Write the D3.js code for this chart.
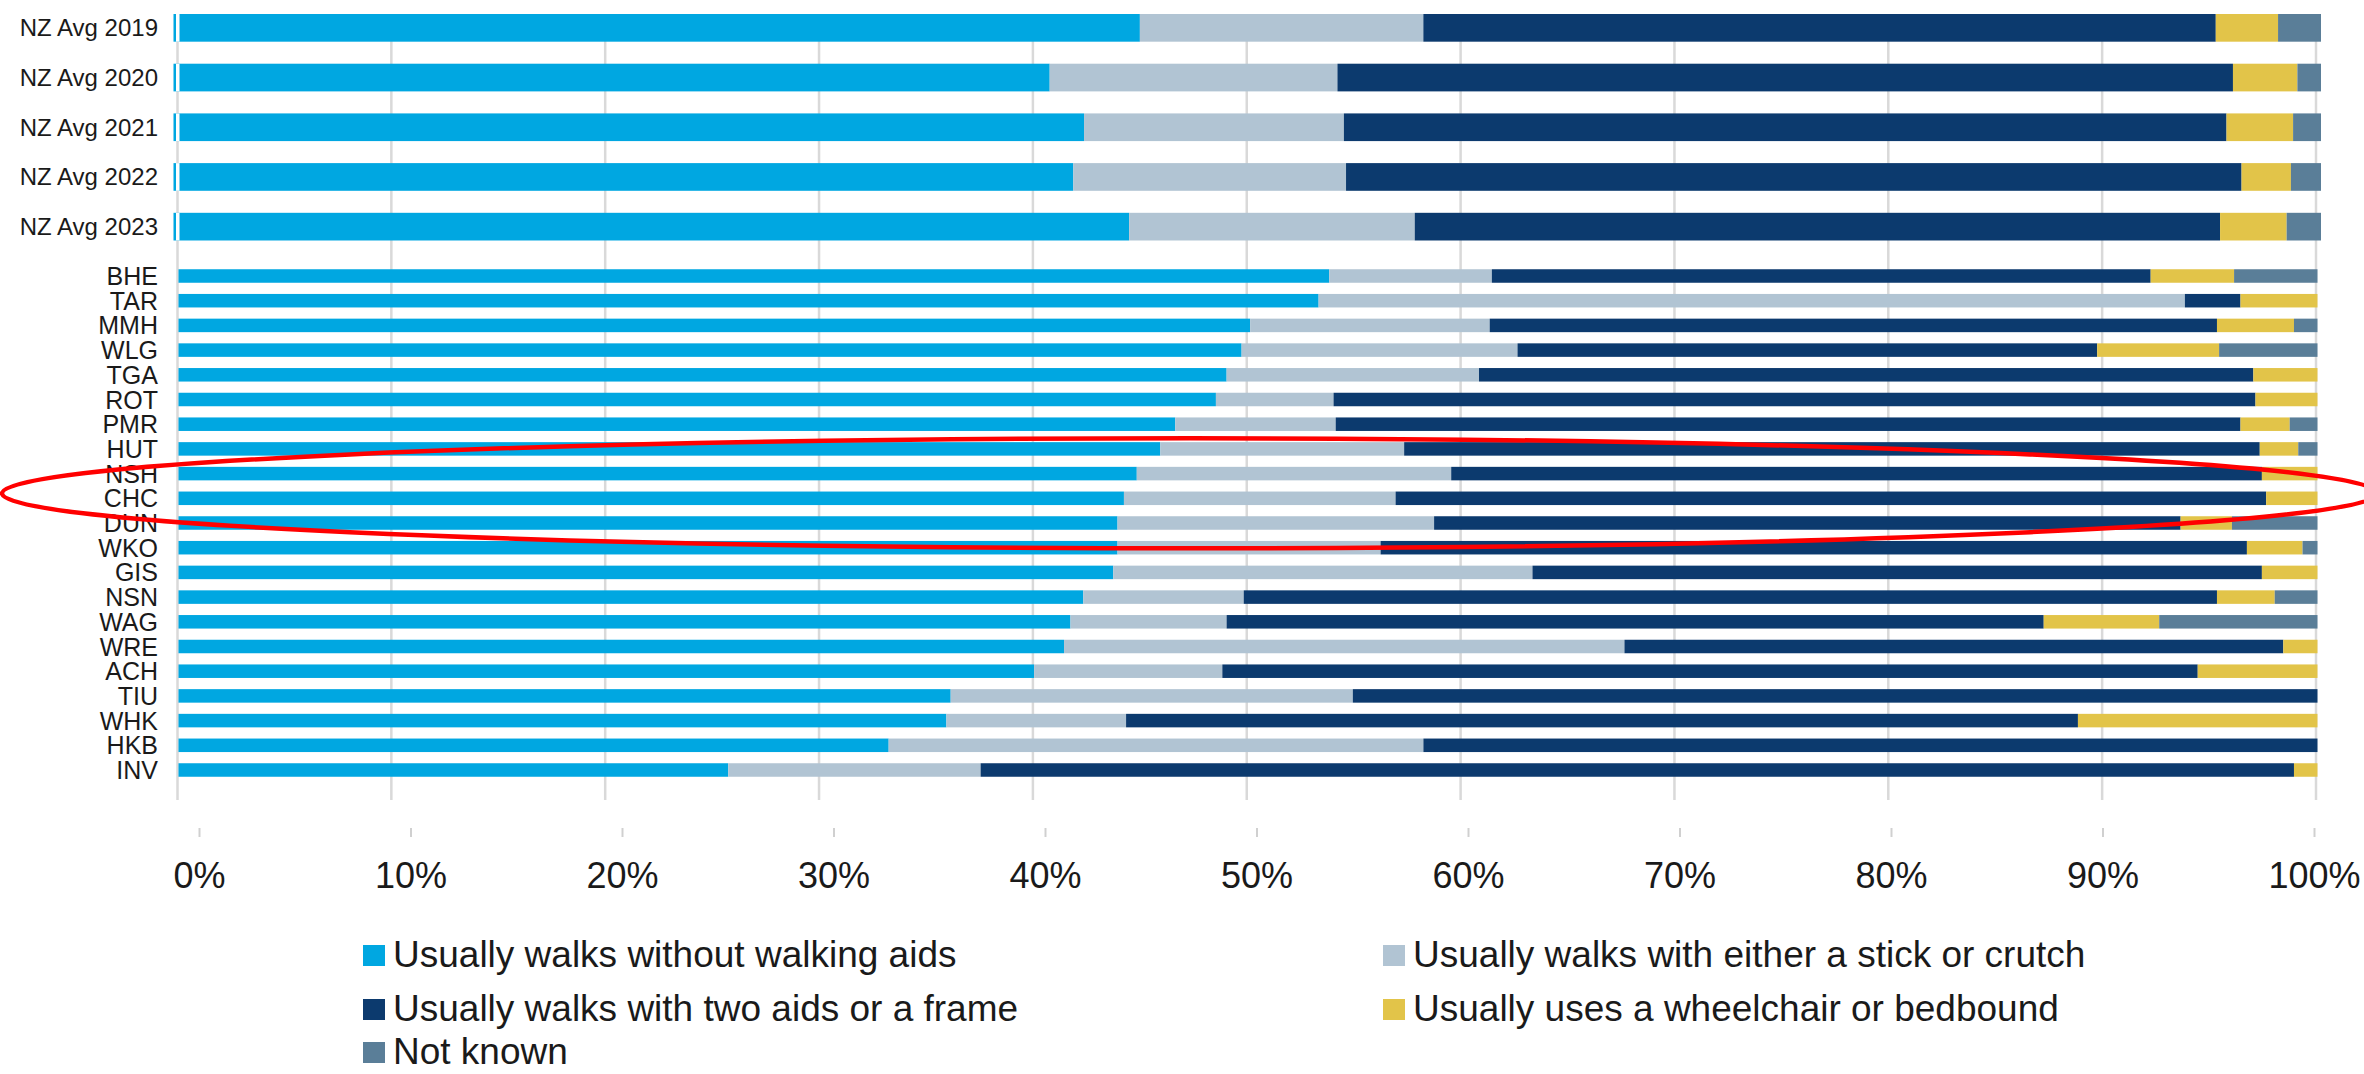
<!DOCTYPE html>
<html>
<head>
<meta charset="utf-8">
<script src="https://cdn.jsdelivr.net/npm/d3@7"></script>
<style>
  html, body { margin: 0; padding: 0; background: #ffffff; }
  svg { display: block; font-family: "Liberation Sans", Arial, sans-serif; }
</style>
</head>
<body>
<svg id="chart" width="2364" height="1074"></svg>
<script>
// Row groups: national averages on top, individual sites below
const nzYears = ["NZ Avg 2019", "NZ Avg 2020", "NZ Avg 2021", "NZ Avg 2022", "NZ Avg 2023"];
const sites = ["BHE", "TAR", "MMH", "WLG", "TGA", "ROT", "PMR", "HUT", "NSH", "CHC", "DUN",
               "WKO", "GIS", "NSN", "WAG", "WRE", "ACH", "TIU", "WHK", "HKB", "INV"];

// Share of patients (%) in each mobility category, rows in the order nzYears then sites
const walksNoAids    = [45.0, 40.8, 42.4, 41.9, 44.5,
                        53.8, 53.3, 50.1, 49.7, 49.0, 48.5, 46.6, 45.9, 44.8, 44.2, 43.9,
                        43.9, 43.7, 42.3, 41.7, 41.4, 40.0, 36.1, 35.9, 33.2, 25.7];
const stickOrCrutch  = [13.2, 13.4, 12.1, 12.7, 13.3,
                        7.6, 40.5, 11.2, 12.9, 11.8, 5.5, 7.5, 11.4, 14.7, 12.7, 14.8,
                        12.3, 19.6, 7.5, 7.3, 26.2, 8.8, 18.8, 8.4, 25.0, 11.8];
const twoAidsOrFrame = [36.9, 41.7, 41.1, 41.7, 37.5,
                        30.8, 2.6, 34.0, 27.1, 36.2, 43.1, 42.3, 40.0, 37.9, 40.7, 34.9,
                        40.5, 34.1, 45.5, 38.2, 30.8, 45.6, 45.1, 44.5, 41.8, 61.4];
const wheelchairBed  = [2.9, 3.0, 3.1, 2.3, 3.1,
                        3.9, 3.6, 3.6, 5.7, 3.0, 2.9, 2.3, 1.8, 2.6, 2.4, 2.4,
                        2.6, 2.6, 2.7, 5.4, 1.6, 5.6, 0.0, 11.2, 0.0, 1.1];
const notKnown       = [2.0, 1.1, 1.3, 1.4, 1.6,
                        3.9, 0.0, 1.1, 4.6, 0.0, 0.0, 1.3, 0.9, 0.0, 0.0, 4.0,
                        0.7, 0.0, 2.0, 7.4, 0.0, 0.0, 0.0, 0.0, 0.0, 0.0];

const seriesLabels = [
  "Usually walks without walking aids",
  "Usually walks with either a stick or crutch",
  "Usually walks with two aids or a frame",
  "Usually uses a wheelchair or bedbound",
  "Not known"
];
const tickValues = [0, 10, 20, 30, 40, 50, 60, 70, 80, 90, 100];

const keys = ["noAids", "stick", "frame", "wheel", "unknown"];
const colors = ["#00a7e1", "#b1c4d3", "#0c3a6e", "#e2c449", "#5a7e98"];
const color = d3.scaleOrdinal(keys, colors);

const rowNames = nzYears.concat(sites);
const rows = rowNames.map((name, i) => ({
  name,
  group: i < nzYears.length ? "nz" : "site",
  noAids: walksNoAids[i],
  stick: stickOrCrutch[i],
  frame: twoAidsOrFrame[i],
  wheel: wheelchairBed[i],
  unknown: notKnown[i]
}));

const stacked = d3.stack().keys(keys)(rows);

const svg = d3.select("#chart");

// Horizontal scales
const xGrid = d3.scaleLinear([0, 100], [177.5, 2316]);
const xNz   = d3.scaleLinear([0, 100], [173.5, 2321]);
const xSite = d3.scaleLinear([0, 100], [178.5, 2317.5]);
const xAxisScale = d3.scaleLinear([0, 100], [199, 2314]);

// Vertical band scales for the two groups
const yNz = d3.scaleBand(nzYears, [3, 251.5]).paddingInner(0.443).paddingOuter(0.2215);
const siteStep = 24.7;
const ySite = d3.scaleBand(sites, [263.65, 263.65 + siteStep * sites.length])
  .paddingInner(0.453).paddingOuter(0.2265);

const xFor = d => d.data.group === "nz" ? xNz : xSite;
const yFor = d => d.data.group === "nz" ? yNz(d.data.name) : ySite(d.data.name);
const hFor = d => d.data.group === "nz" ? yNz.bandwidth() : ySite.bandwidth();

// Vertical gridlines
svg.append("g")
  .selectAll("line")
  .data(tickValues)
  .join("line")
  .attr("x1", d => xGrid(d)).attr("x2", d => xGrid(d))
  .attr("y1", 14).attr("y2", 800)
  .attr("stroke", "#d9d9d9")
  .attr("stroke-width", 2.5);

// Stacked bars
svg.append("g")
  .selectAll("g")
  .data(stacked)
  .join("g")
  .attr("fill", s => color(s.key))
  .selectAll("rect")
  .data(s => s.filter(d => d[1] - d[0] > 0))
  .join("rect")
  .attr("x", d => xFor(d)(d[0]))
  .attr("width", d => xFor(d)(d[1]) - xFor(d)(d[0]))
  .attr("y", d => yFor(d))
  .attr("height", d => hFor(d));

// Thin white separator near the baseline of the national average bars
svg.append("g")
  .selectAll("rect")
  .data(nzYears)
  .join("rect")
  .attr("x", 176).attr("width", 3.5)
  .attr("y", d => yNz(d)).attr("height", yNz.bandwidth())
  .attr("fill", "#ffffff");

// Row labels
const labelX = 158;
svg.append("g")
  .selectAll("text")
  .data(nzYears)
  .join("text")
  .attr("x", labelX)
  .attr("y", d => yNz(d) + yNz.bandwidth() / 2 + 8.5)
  .attr("text-anchor", "end")
  .attr("font-size", 24)
  .attr("fill", "#1a1a1a")
  .text(d => d);

svg.append("g")
  .selectAll("text")
  .data(sites)
  .join("text")
  .attr("x", labelX)
  .attr("y", d => ySite(d) + ySite.bandwidth() / 2 + 9)
  .attr("text-anchor", "end")
  .attr("font-size", 25)
  .attr("fill", "#1a1a1a")
  .text(d => d);

// Bottom percentage axis
const axis = svg.append("g")
  .attr("transform", "translate(0,828)")
  .call(d3.axisBottom(xAxisScale)
    .tickValues(tickValues)
    .tickFormat(d => d + "%")
    .tickSize(9)
    .tickPadding(25));
axis.select(".domain").remove();
axis.selectAll(".tick line").attr("stroke", "#d0d0d0").attr("stroke-width", 2);
axis.selectAll(".tick text")
  .attr("font-size", 36)
  .attr("font-family", "'Liberation Sans', Arial, sans-serif")
  .attr("fill", "#1a1a1a");

// Highlight ring around the NSH / CHC / DUN rows
svg.append("ellipse")
  .attr("cx", 1190)
  .attr("cy", ySite("CHC") + ySite.bandwidth() / 2 - 5)
  .attr("rx", 1188)
  .attr("ry", 55)
  .attr("fill", "none")
  .attr("stroke", "#ff0000")
  .attr("stroke-width", 4.5);

// Legend, two columns
const legendItems = [
  { key: "noAids",  col: 0, row: 0 },
  { key: "stick",   col: 1, row: 0 },
  { key: "frame",   col: 0, row: 1 },
  { key: "wheel",   col: 1, row: 1 },
  { key: "unknown", col: 0, row: 2 }
];
const legendColX = [363, 1383];
const legendRowY = [945, 999, 1042];

const legend = svg.append("g")
  .selectAll("g")
  .data(legendItems)
  .join("g")
  .attr("transform", d => `translate(${legendColX[d.col]},${legendRowY[d.row]})`);

legend.append("rect")
  .attr("width", 22).attr("height", 21)
  .attr("fill", d => color(d.key));

legend.append("text")
  .attr("x", 30)
  .attr("y", 22)
  .attr("font-size", 37)
  .attr("fill", "#1a1a1a")
  .text(d => seriesLabels[keys.indexOf(d.key)]);
</script>
</body>
</html>
